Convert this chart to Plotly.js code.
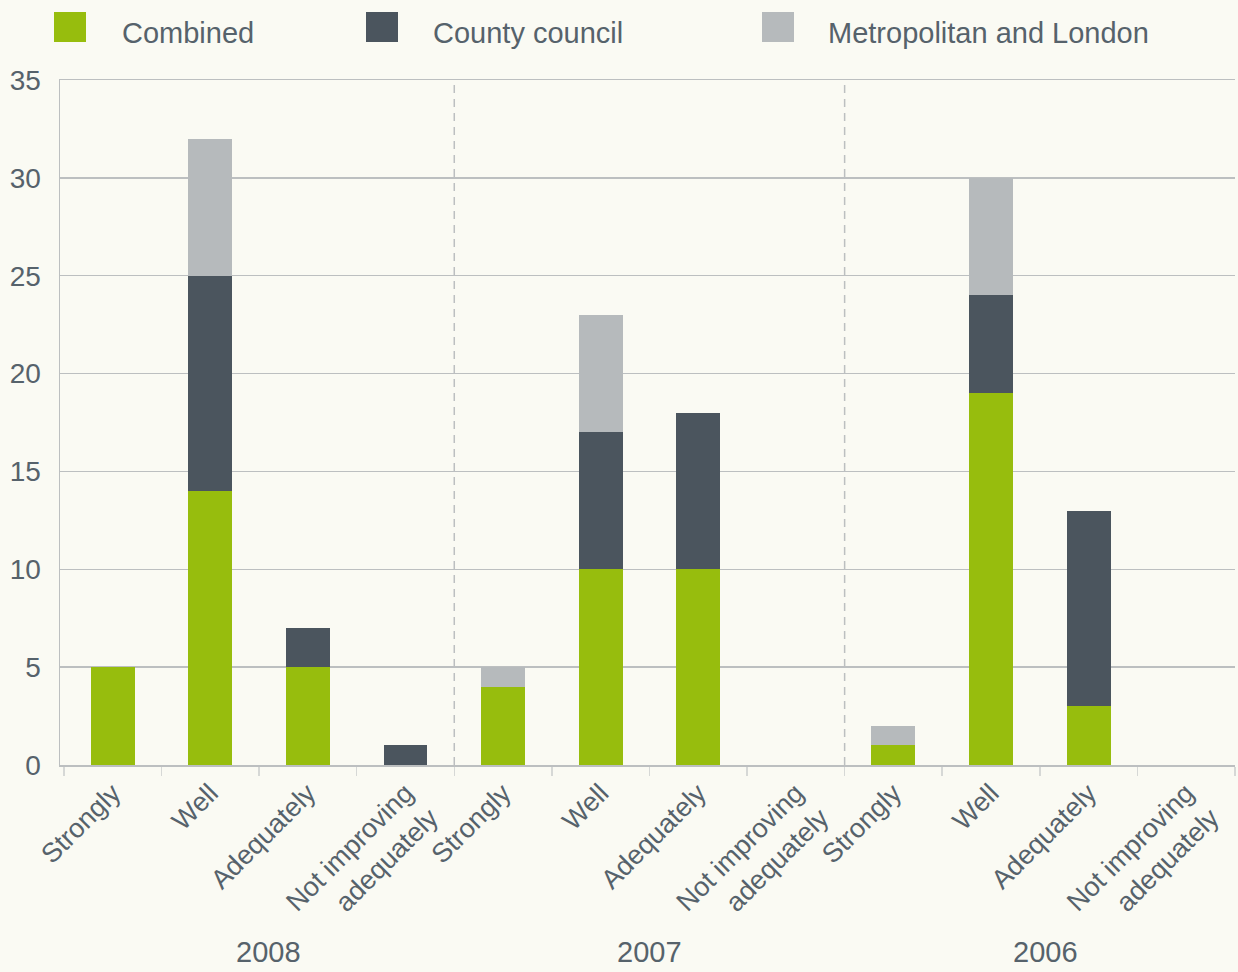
<!DOCTYPE html>
<html>
<head>
<meta charset="utf-8">
<script src="https://cdn.plot.ly/plotly-3.0.1.min.js"></script>
<style>
  html, body { margin: 0; padding: 0; background: #fafaf3; }
  #chart { width: 1238px; height: 972px; }
</style>
</head>
<body>
<div id="chart"></div>
<script>
// ---- data ----
const years = ['2008', '2007', '2006'];
const ratings = ['Strongly', 'Well', 'Adequately', 'Not improving<br>adequately'];
const seriesNames = ['Combined', 'County council', 'Metropolitan and London'];
const combined     = [5, 14, 5, 0,   4, 10, 10, 0,   1, 19, 3, 0];
const countyCouncil = [0, 11, 2, 1,  0, 7, 8, 0,     0, 5, 10, 0];
const metroLondon  = [0, 7, 0, 0,    1, 6, 0, 0,     1, 6, 0, 0];
const yTicks = [0, 5, 10, 15, 20, 25, 30, 35];

// ---- styling ----
const colors = ['#97bd0d', '#4b555e', '#b6babc'];
const textColor = '#56626b';
const gridColor = '#bcbfc0';
const fontFamily = '"Liberation Sans", Arial, sans-serif';

// positions derived from data
const tickLabels = [];
years.forEach(() => ratings.forEach(r => tickLabels.push(r)));
const xIdx = tickLabels.map((_, i) => i);

const seriesValues = [combined, countyCouncil, metroLondon];
const traces = seriesValues.map((vals, k) => ({
  type: 'bar',
  x: xIdx,
  y: vals,
  name: seriesNames[k],
  marker: { color: colors[k], line: { width: 0 } },
  showlegend: false,
  hoverinfo: 'y+name'
}));

// layout geometry (pixels)
const W = 1238, H = 972;
const mL = 60, mR = 3, mT = 80, mB = 207;
const pw = W - mL - mR, ph = H - mT - mB;
const px = x => (x - mL) / pw;
const py = y => (H - mB - y) / ph;

const shapes = [];
const annotations = [];

// group separators (dashed)
for (let g = 1; g < years.length; g++) {
  const xb = g * ratings.length - 0.5;
  shapes.push({
    type: 'line', xref: 'x', yref: 'y', x0: xb, x1: xb, y0: 0, y1: 35,
    line: { color: gridColor, width: 1.5, dash: '8px,6px' }, layer: 'below'
  });
}

// group labels
const groupShift = [9, 0, 6];
years.forEach((yr, g) => {
  annotations.push({
    xref: 'x', yref: 'paper',
    x: g * ratings.length + (ratings.length - 1) / 2, xshift: groupShift[g],
    y: py(952), yanchor: 'middle', xanchor: 'center',
    text: yr, showarrow: false,
    font: { size: 29, color: textColor, family: fontFamily }
  });
});

// custom legend
const legendSquares = [54, 366, 762];
const legendTextX = [120, 431, 826];
seriesNames.forEach((n, k) => {
  shapes.push({
    type: 'rect', xref: 'paper', yref: 'paper',
    x0: px(legendSquares[k]), x1: px(legendSquares[k] + 32),
    y0: py(42), y1: py(12),
    fillcolor: colors[k], line: { width: 0 }
  });
  annotations.push({
    xref: 'paper', yref: 'paper',
    x: px(legendTextX[k]), y: py(33), xanchor: 'left', yanchor: 'middle',
    text: n, showarrow: false,
    font: { size: 29, color: textColor, family: fontFamily }
  });
});

const layout = {
  width: W, height: H,
  margin: { l: mL, r: mR, t: mT, b: mB, pad: 0 },
  paper_bgcolor: '#fafaf3',
  plot_bgcolor: '#fafaf3',
  barmode: 'stack',
  bargap: 0.55,
  font: { family: fontFamily, color: textColor },
  xaxis: {
    range: [-0.54, tickLabels.length - 0.5],
    tickmode: 'array', tickvals: xIdx, ticktext: tickLabels,
    tickangle: -45, ticks: '',
    tickfont: { size: 27, color: textColor, family: fontFamily },
    showgrid: false, zeroline: false,
    showline: true, linecolor: gridColor, linewidth: 1.5, mirror: true,
    minor: { tickmode: 'linear', tick0: -0.5, dtick: 1, ticks: 'outside', ticklen: 9, tickcolor: '#d6d8d6', tickwidth: 1.5, showgrid: false },
    fixedrange: true
  },
  yaxis: {
    range: [0, 35],
    tickmode: 'array', tickvals: yTicks,
    tickfont: { size: 28, color: textColor, family: fontFamily },
    ticks: '', ticklabelstandoff: 12,
    showgrid: true, gridcolor: gridColor, gridwidth: 1.5,
    zeroline: false,
    showline: true, linecolor: gridColor, linewidth: 1.5,
    fixedrange: true
  },
  shapes: shapes,
  annotations: annotations
};

Plotly.newPlot('chart', traces, layout, { displayModeBar: false, staticPlot: true });
</script>
</body>
</html>
